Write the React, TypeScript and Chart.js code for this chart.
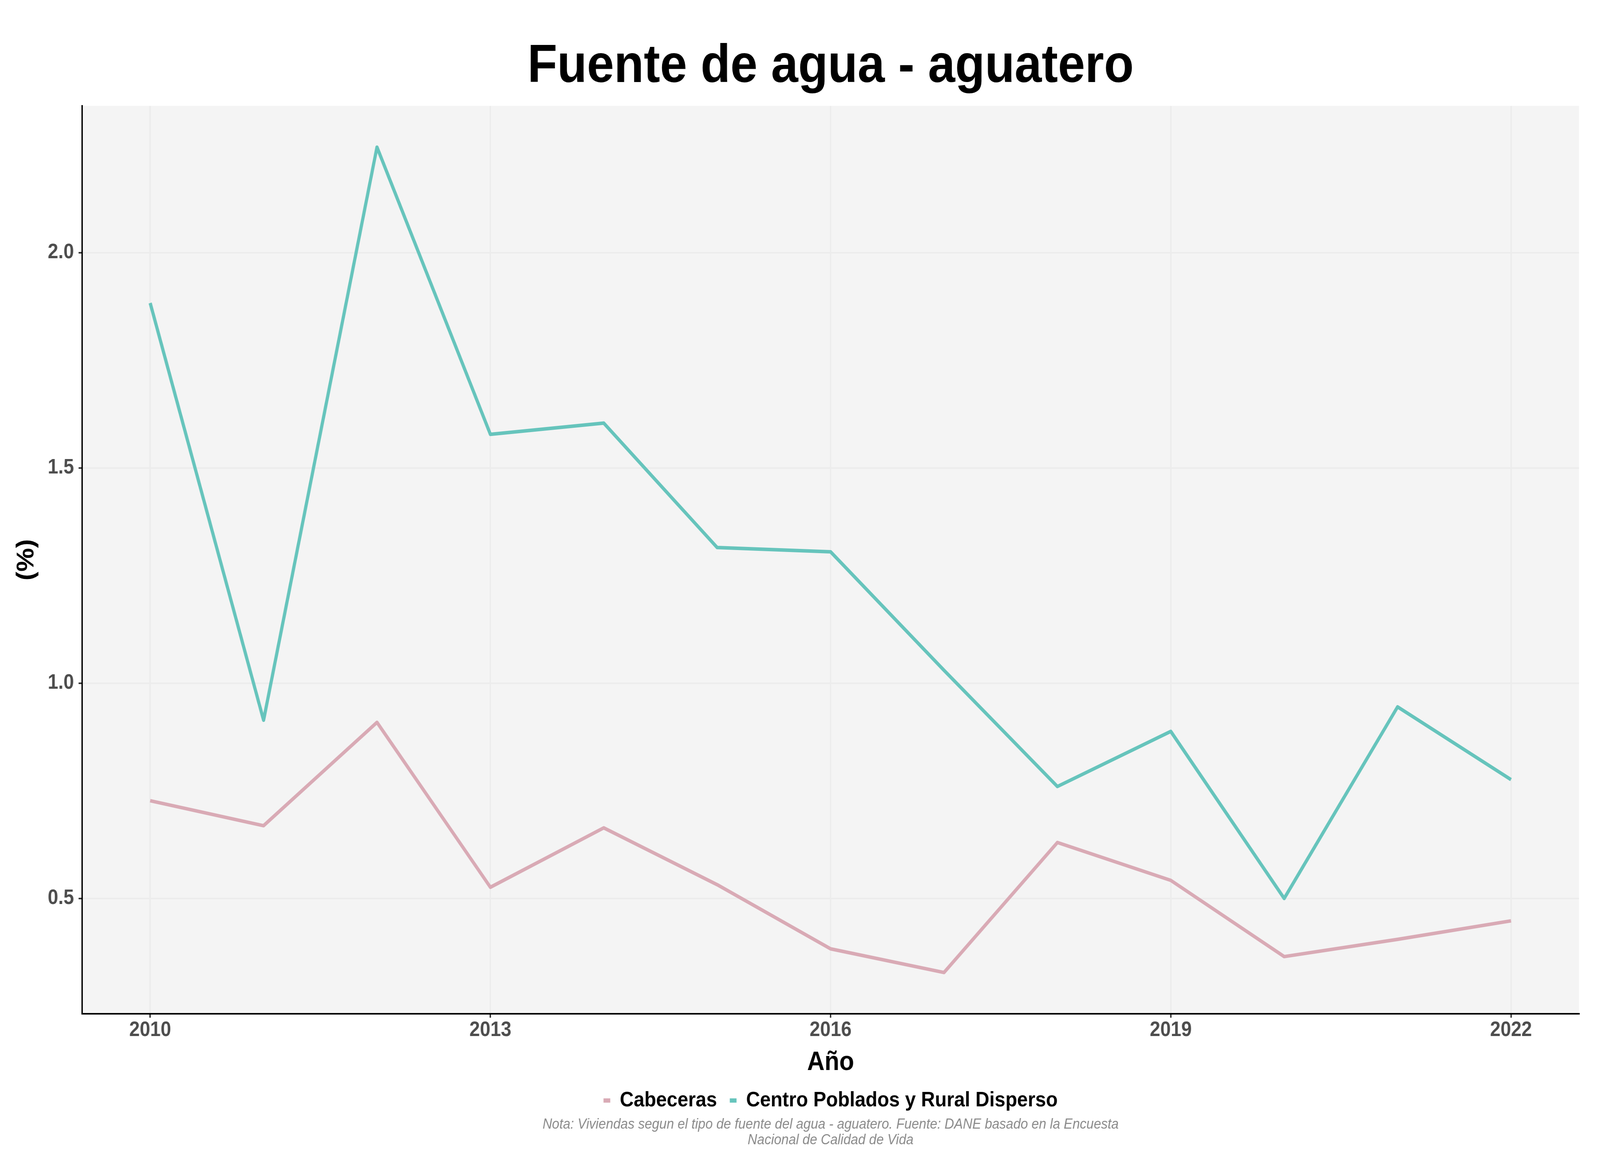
import React, { useEffect, useRef, useState } from 'react';
import { Chart, registerables } from 'chart.js';

Chart.register(...registerables);

const years = [2010, 2011, 2012, 2013, 2014, 2015, 2016, 2017, 2018, 2019, 2020, 2021, 2022];
const cabeceras = [0.727, 0.669, 0.909, 0.526, 0.664, 0.532, 0.383, 0.328, 0.630, 0.542, 0.365, 0.405, 0.448];
const centroPoblados = [1.883, 0.914, 2.245, 1.578, 1.604, 1.315, 1.305, 1.03, 0.760, 0.888, 0.500, 0.945, 0.776];

const xTickValues = [2010, 2013, 2016, 2019, 2022];
const yTickValues = [0.5, 1.0, 1.5, 2.0];

const seriesLabels = ['Cabeceras', 'Centro Poblados y Rural Disperso'];
const seriesColors = ['#D9AAB5', '#66C4BC'];

const titleText = 'Fuente de agua - aguatero';
const xTitle = 'Año';
const yTitle = '(%)';
const noteLines = [
  'Nota: Viviendas segun el tipo de fuente del agua - aguatero. Fuente: DANE basado en la Encuesta',
  'Nacional de Calidad de Vida',
];

const FONT = "'Liberation Sans', Arial, Helvetica, sans-serif";
const DESIGN_W = 4500;
const DESIGN_H = 3000;

const panelBackground = {
  id: 'panelBackground',
  beforeDraw(chart: any) {
    const { ctx, chartArea, width, height } = chart;
    ctx.save();
    ctx.fillStyle = '#FFFFFF';
    ctx.fillRect(0, 0, width, height);
    ctx.fillStyle = '#F4F4F4';
    ctx.fillRect(chartArea.left, chartArea.top, chartArea.right - chartArea.left, chartArea.bottom - chartArea.top);
    ctx.restore();
  },
};

export default function App() {
  const canvasRef = useRef<HTMLCanvasElement | null>(null);
  const [scale, setScale] = useState({ sx: 1, sy: 1 });

  useEffect(() => {
    const w = Math.min(window.innerWidth || DESIGN_W, DESIGN_W);
    const h = Math.min(window.innerHeight || DESIGN_H, DESIGN_H);
    setScale({ sx: w / DESIGN_W, sy: h / DESIGN_H });
  }, []);

  useEffect(() => {
    if (!canvasRef.current) return;
    const allY = [...cabeceras, ...centroPoblados];
    const yLo = Math.min(...allY);
    const yHi = Math.max(...allY);
    const yPad = (yHi - yLo) * 0.05;
    const xLo = Math.min(...years);
    const xHi = Math.max(...years);
    const xPad = (xHi - xLo) * 0.05;

    const toPoints = (vals: number[]) => years.map((yr, i) => ({ x: yr, y: vals[i] }));

    const chart = new Chart(canvasRef.current, {
      type: 'line',
      data: {
        datasets: [
          {
            label: seriesLabels[0],
            data: toPoints(cabeceras),
            borderColor: seriesColors[0],
            backgroundColor: seriesColors[0],
            borderWidth: 9,
            pointRadius: 0,
            tension: 0,
            borderJoinStyle: 'round',
          },
          {
            label: seriesLabels[1],
            data: toPoints(centroPoblados),
            borderColor: seriesColors[1],
            backgroundColor: seriesColors[1],
            borderWidth: 9,
            pointRadius: 0,
            tension: 0,
            borderJoinStyle: 'round',
          },
        ],
      },
      options: {
        responsive: false,
        animation: false,
        devicePixelRatio: 1,
        layout: { padding: { left: 0, right: 59, top: 0, bottom: 61 } },
        plugins: {
          title: {
            display: true,
            text: titleText,
            fullSize: false,
            color: '#000000',
            font: { family: FONT, size: 137, weight: 'bold', lineHeight: 1 },
            padding: { top: 104, bottom: 30 },
          },
          subtitle: {
            display: true,
            position: 'bottom',
            text: noteLines,
            fullSize: false,
            color: '#8A8A8A',
            font: { family: FONT, size: 37, style: 'italic', lineHeight: 40 / 37 },
            padding: { top: 5, bottom: 0 },
          },
          legend: {
            display: true,
            position: 'bottom',
            fullSize: false,
            labels: {
              boxWidth: 19,
              boxHeight: 11,
              padding: 36,
              color: '#000000',
              font: { family: FONT, size: 54, weight: 'bold' },
              generateLabels: (c: any) =>
                Chart.defaults.plugins.legend.labels.generateLabels(c).map((l: any) => ({ ...l, lineWidth: 0 })),
            },
          },
          tooltip: { enabled: false },
        },
        scales: {
          x: {
            type: 'linear',
            min: xLo - xPad,
            max: xHi + xPad,
            afterBuildTicks: (s: any) => {
              s.ticks = xTickValues.map((v) => ({ value: v }));
            },
            afterFit: (s: any) => {
              s.height = 159;
            },
            ticks: {
              color: '#4D4D4D',
              font: { family: FONT, size: 53, weight: 'bold', lineHeight: 1 },
              padding: 6,
              maxRotation: 0,
              autoSkip: false,
              callback: (v: any) => String(v),
            },
            grid: { color: '#ECECEC', lineWidth: 4, tickLength: 10, tickWidth: 4, tickColor: '#333333', drawTicks: true },
            border: { display: true, color: '#000000', width: 4 },
            title: {
              display: true,
              text: xTitle,
              color: '#000000',
              font: { family: FONT, size: 68, weight: 'bold', lineHeight: 1 },
              padding: { top: 0, bottom: 0 },
            },
          },
          y: {
            type: 'linear',
            min: yLo - yPad,
            max: yHi + yPad,
            afterBuildTicks: (s: any) => {
              s.ticks = yTickValues.map((v) => ({ value: v }));
            },
            afterFit: (s: any) => {
              s.width = 231;
            },
            ticks: {
              color: '#4D4D4D',
              font: { family: FONT, size: 53, weight: 'bold', lineHeight: 1 },
              padding: 13,
              autoSkip: false,
              callback: (v: any) => Number(v).toFixed(1),
            },
            grid: { color: '#ECECEC', lineWidth: 4, tickLength: 10, tickWidth: 4, tickColor: '#333333', drawTicks: true },
            border: { display: true, color: '#000000', width: 4 },
            title: {
              display: true,
              text: yTitle,
              color: '#000000',
              font: { family: FONT, size: 68, weight: 'bold', lineHeight: 1 },
              padding: { top: 41, bottom: 0 },
            },
          },
        },
      },
      plugins: [panelBackground],
    } as any);

    return () => {
      chart.destroy();
    };
  }, []);

  return (
    <div
      style={{
        position: 'fixed',
        left: 0,
        top: 0,
        width: DESIGN_W * scale.sx,
        height: DESIGN_H * scale.sy,
        overflow: 'hidden',
        background: '#FFFFFF',
      }}
    >
      <div
        style={{
          width: DESIGN_W,
          height: DESIGN_H,
          transform: `scale(${scale.sx}, ${scale.sy})`,
          transformOrigin: '0 0',
        }}
      >
        <canvas
          ref={canvasRef}
          width={DESIGN_W}
          height={DESIGN_H}
          style={{ display: 'block', width: DESIGN_W, height: DESIGN_H }}
        />
      </div>
    </div>
  );
}
